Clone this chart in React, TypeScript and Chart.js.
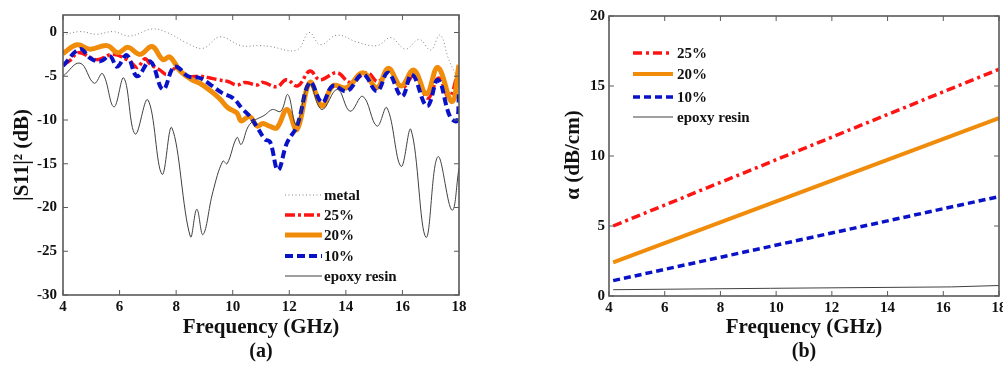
import React, { useEffect, useRef } from 'react';
import { Chart, registerables } from 'chart.js';

Chart.register(...registerables);

type Pt = [number, number];

// ---------- Data ----------
const freqTicks = [4, 6, 8, 10, 12, 14, 16, 18];
const s11Ticks = [-30, -25, -20, -15, -10, -5, 0];
const alphaTicks = [0, 5, 10, 15, 20];

const s11Metal: Pt[] = [
  [4.0, -0.3], [4.6, 0.1], [5.2, -0.2], [5.77, 0.1], [6.37, -0.4], [7.15, 0.4], [7.68, 0.0],
  [8.38, -1.2], [8.95, -1.8], [9.55, -0.5], [10.3, -1.5], [10.96, -1.5], [11.32, -1.6],
  [12.27, -2.0], [12.7, 0.0], [13.1, -1.4], [13.69, -0.3], [14.4, -1.1], [15.1, -1.5],
  [15.6, -0.6], [16.1, -1.9], [16.6, -0.8], [17.0, -2.0], [17.33, -0.3], [17.65, -3.2], [18.0, -5.5],
];

const s11P25: Pt[] = [
  [4.0, -3.7], [4.25, -3.2], [4.55, -2.3], [5.2, -3.1], [5.77, -2.5], [6.37, -3.3], [6.62, -4.0],
  [6.9, -3.0], [7.08, -3.6], [7.43, -4.3], [7.68, -4.8], [8.03, -4.0], [8.38, -5.0], [8.84, -5.0],
  [9.2, -5.2], [9.48, -5.4], [9.83, -5.6], [10.15, -6.0], [10.43, -5.7], [10.86, -6.0], [11.07, -5.7],
  [11.56, -6.2], [11.9, -5.4], [12.3, -6.1], [12.73, -4.4], [13.08, -5.4], [13.69, -4.6], [14.15, -5.7],
  [14.75, -4.6], [15.13, -5.6], [15.56, -4.4], [16.0, -6.3], [16.44, -4.8], [16.9, -7.5], [17.28, -5.2],
  [17.65, -7.4], [18.0, -4.0],
];

const s11P20: Pt[] = [
  [4.0, -2.4], [4.5, -1.4], [4.95, -1.9], [5.56, -1.5], [5.94, -2.3], [6.3, -1.7], [6.72, -2.5],
  [7.15, -1.6], [7.53, -3.1], [7.78, -2.8], [8.14, -4.4], [8.56, -5.4], [8.84, -5.8], [9.27, -6.8],
  [9.55, -7.6], [9.83, -8.6], [10.15, -9.2], [10.3, -10.1], [10.6, -9.6], [10.86, -10.7], [11.07, -10.4],
  [11.3, -10.7], [11.56, -10.9], [11.92, -8.8], [12.27, -11.1], [12.73, -5.7], [13.16, -8.4],
  [13.54, -6.1], [14.04, -6.3], [14.6, -4.6], [15.1, -6.3], [15.5, -4.1], [15.95, -6.1], [16.4, -4.3],
  [16.85, -7.0], [17.25, -4.0], [17.75, -7.9], [18.0, -3.7],
];

const s11P10: Pt[] = [
  [4.0, -3.8], [4.6, -1.9], [4.95, -2.9], [5.31, -3.3], [5.66, -2.7], [5.91, -3.9], [6.26, -2.6],
  [6.62, -5.0], [7.08, -3.3], [7.53, -6.5], [7.89, -4.0], [8.07, -4.0], [8.42, -5.0], [8.84, -5.2],
  [9.27, -6.1], [9.62, -6.9], [10.01, -7.5], [10.36, -8.8], [10.61, -9.6], [10.86, -10.8],
  [11.14, -12.2], [11.32, -12.5], [11.6, -15.7], [11.92, -12.6], [12.27, -10.7], [12.73, -5.7],
  [13.16, -8.0], [13.54, -6.1], [14.04, -6.7], [14.6, -4.8], [15.1, -6.7], [15.49, -4.6], [15.98, -7.3],
  [16.34, -4.8], [16.87, -8.4], [17.26, -5.4], [17.68, -9.6], [17.93, -10.1], [18.0, -6.9],
];

const s11Epoxy: Pt[] = [
  [4.0, -5.0], [4.6, -3.5], [5.1, -5.8], [5.4, -4.7], [5.8, -8.5], [6.15, -5.2], [6.55, -11.6],
  [7.0, -7.7], [7.5, -16.2], [7.85, -10.9], [8.5, -23.3], [8.73, -20.2], [8.95, -23.1], [9.3, -18.2],
  [9.65, -14.7], [9.8, -15.0], [10.15, -12.0], [10.3, -12.8], [10.6, -10.5], [11.15, -9.4],
  [11.4, -8.8], [11.7, -9.0], [11.95, -7.1], [12.25, -10.5], [12.7, -5.9], [13.15, -8.8], [13.7, -6.5],
  [14.15, -9.0], [14.6, -7.3], [15.1, -10.7], [15.45, -8.6], [15.95, -15.3], [16.3, -11.1],
  [16.83, -23.4], [17.25, -14.2], [17.75, -20.3], [18.0, -15.5],
];

const alphaP25: Pt[] = [[4.15, 5.0], [18.0, 16.2]];
const alphaP20: Pt[] = [[4.15, 2.4], [18.0, 12.7]];
const alphaP10: Pt[] = [[4.15, 1.1], [18.0, 7.1]];
const alphaEpoxy: Pt[] = [[4.15, 0.45], [9.8, 0.55], [16.3, 0.65], [18.0, 0.75]];

// ---------- Styles ----------
const RED = '#ff1414';
const ORANGE = '#f08c0a';
const BLUE = '#0a12c8';
const BLACK = '#404040';
const GRAY = '#808080';
const FONT = '"Liberation Serif", "DejaVu Serif", serif';

type Series = { label: string; data: Pt[]; color: string; width: number; dash: number[]; order: number };

const toXY = (a: Pt[]) => a.map(([x, y]) => ({ x, y }));

function makeDatasets(series: Series[], tension: number) {
  return series.map((s) => ({
    label: s.label,
    data: toXY(s.data),
    borderColor: s.color,
    backgroundColor: s.color,
    borderWidth: s.width,
    borderDash: s.dash,
    borderCapStyle: 'butt' as const,
    pointRadius: 0,
    tension,
    fill: false,
    order: s.order,
  }));
}

type DecorOpts = {
  yTitle: string;
  yTitleX: number;
  yTitleY: number;
  xTitleY: number;
  caption: string;
  captionY: number;
  legend: Series[];
  legendX1: number;
  legendX2: number;
  legendTextX: number;
  legendYs: number[];
};

function makeDecor(o: DecorOpts) {
  return {
    id: 'decor',
    afterDatasetsDraw(chart: any) {
      const { ctx, chartArea: a, scales } = chart;
      ctx.save();
      ctx.setLineDash([]);
      ctx.strokeStyle = '#5a5a5a';
      ctx.lineWidth = 1.6;
      ctx.strokeRect(a.left, a.top, a.right - a.left, a.bottom - a.top);
      ctx.lineWidth = 1;
      const L = 5;
      const seg = (x1: number, y1: number, x2: number, y2: number) => {
        ctx.beginPath();
        ctx.moveTo(x1, y1);
        ctx.lineTo(x2, y2);
        ctx.stroke();
      };
      scales.x.ticks.forEach((t: any) => {
        const p = scales.x.getPixelForValue(t.value);
        seg(p, a.bottom, p, a.bottom - L);
        seg(p, a.top, p, a.top + L);
      });
      scales.y.ticks.forEach((t: any) => {
        const p = scales.y.getPixelForValue(t.value);
        seg(a.left, p, a.left + L, p);
        seg(a.right, p, a.right - L, p);
      });
      ctx.restore();
    },
    afterDraw(chart: any) {
      const { ctx, chartArea: a } = chart;
      ctx.save();
      ctx.fillStyle = '#111';
      ctx.font = `bold 21px ${FONT}`;
      ctx.textAlign = 'center';
      ctx.textBaseline = 'middle';
      ctx.save();
      ctx.translate(o.yTitleX, o.yTitleY);
      ctx.rotate(-Math.PI / 2);
      ctx.fillText(o.yTitle, 0, 0);
      ctx.restore();
      const cx = (a.left + a.right) / 2;
      ctx.fillText('Frequency (GHz)', cx, o.xTitleY);
      ctx.font = `bold 20px ${FONT}`;
      ctx.fillText(o.caption, cx, o.captionY);
      ctx.font = `bold 15px ${FONT}`;
      ctx.textAlign = 'left';
      o.legend.forEach((s, i) => {
        const y = o.legendYs[i];
        ctx.strokeStyle = s.color;
        ctx.lineWidth = s.width;
        ctx.lineCap = 'butt';
        ctx.setLineDash(s.dash);
        ctx.beginPath();
        ctx.moveTo(o.legendX1, y);
        ctx.lineTo(o.legendX2, y);
        ctx.stroke();
        ctx.setLineDash([]);
        ctx.fillStyle = '#111';
        ctx.fillText(s.label, o.legendTextX, y + 1);
      });
      ctx.restore();
    },
  };
}

function buildConfig(
  datasets: any[],
  yMin: number,
  yMax: number,
  yTicks: number[],
  yAxisWidth: number,
  xAxisHeight: number,
  padTop: number,
  padRight: number,
  yLabelPad: number,
  decor: any
) {
  const tickFont = { family: FONT, size: 15, weight: 'bold' as const };
  return {
    type: 'line' as const,
    data: { datasets },
    options: {
      responsive: false,
      animation: false as const,
      devicePixelRatio: 1,
      layout: { padding: { left: 0, right: padRight, top: padTop, bottom: 0 } },
      plugins: { legend: { display: false }, tooltip: { enabled: false } },
      scales: {
        x: {
          type: 'linear' as const,
          min: 4,
          max: 18,
          grid: { display: false, drawTicks: false },
          border: { display: false },
          ticks: { font: tickFont, color: '#111', padding: 3, maxRotation: 0 },
          afterBuildTicks: (ax: any) => {
            ax.ticks = freqTicks.map((v) => ({ value: v }));
          },
          afterFit: (ax: any) => {
            ax.height = xAxisHeight;
            ax.paddingLeft = 0;
            ax.paddingRight = 0;
          },
        },
        y: {
          type: 'linear' as const,
          min: yMin,
          max: yMax,
          grid: { display: false, drawTicks: false },
          border: { display: false },
          ticks: { font: tickFont, color: '#111', padding: yLabelPad },
          afterBuildTicks: (ax: any) => {
            ax.ticks = yTicks.map((v) => ({ value: v }));
          },
          afterFit: (ax: any) => {
            ax.width = yAxisWidth;
            ax.paddingTop = 0;
            ax.paddingBottom = 0;
          },
        },
      },
    },
    plugins: [decor],
  };
}

const leftSeries: Series[] = [
  { label: 'metal', data: s11Metal, color: GRAY, width: 1, dash: [1, 2.5], order: 4 },
  { label: '25%', data: s11P25, color: RED, width: 3.5, dash: [10, 3, 3, 3], order: 3 },
  { label: '20%', data: s11P20, color: ORANGE, width: 5, dash: [], order: 2 },
  { label: '10%', data: s11P10, color: BLUE, width: 4, dash: [8, 4], order: 1 },
  { label: 'epoxy resin', data: s11Epoxy, color: BLACK, width: 1, dash: [], order: 0 },
];

const rightSeries: Series[] = [
  { label: '25%', data: alphaP25, color: RED, width: 3.5, dash: [9, 4, 3, 4], order: 3 },
  { label: '20%', data: alphaP20, color: ORANGE, width: 4, dash: [], order: 2 },
  { label: '10%', data: alphaP10, color: BLUE, width: 3.5, dash: [7, 4], order: 1 },
  { label: 'epoxy resin', data: alphaEpoxy, color: BLACK, width: 1, dash: [], order: 0 },
];

export default function App() {
  const refA = useRef<HTMLCanvasElement>(null);
  const refB = useRef<HTMLCanvasElement>(null);

  useEffect(() => {
    if (!refA.current || !refB.current) return;
    const decorA = makeDecor({
      yTitle: '|S11|² (dB)',
      yTitleX: 23,
      yTitleY: 155,
      xTitleY: 328,
      caption: '(a)',
      captionY: 352,
      legend: leftSeries,
      legendX1: 285,
      legendX2: 322,
      legendTextX: 324,
      legendYs: [195, 215, 235, 256, 276],
    });
    const decorB = makeDecor({
      yTitle: 'α (dB/cm)',
      yTitleX: 74,
      yTitleY: 155,
      xTitleY: 328,
      caption: '(b)',
      captionY: 352,
      legend: rightSeries,
      legendX1: 133,
      legendX2: 173,
      legendTextX: 177,
      legendYs: [53, 74, 97, 117],
    });
    const chartA = new Chart(
      refA.current,
      buildConfig(makeDatasets(leftSeries, 0.4), -30, 2, s11Ticks, 63, 70, 15, 41, 6, decorA) as any
    );
    const chartB = new Chart(
      refB.current,
      buildConfig(makeDatasets(rightSeries, 0), 0, 20, alphaTicks, 109, 69, 16, 4, 4, decorB) as any
    );
    return () => {
      chartA.destroy();
      chartB.destroy();
    };
  }, []);

  return (
    <div style={{ position: 'fixed', left: 0, top: 0, width: 1003, height: 365, background: '#fff', overflow: 'hidden' }}>
      <canvas ref={refA} width={500} height={365} style={{ position: 'absolute', left: 0, top: 0, width: 500, height: 365 }} />
      <canvas ref={refB} width={503} height={365} style={{ position: 'absolute', left: 500, top: 0, width: 503, height: 365 }} />
    </div>
  );
}
